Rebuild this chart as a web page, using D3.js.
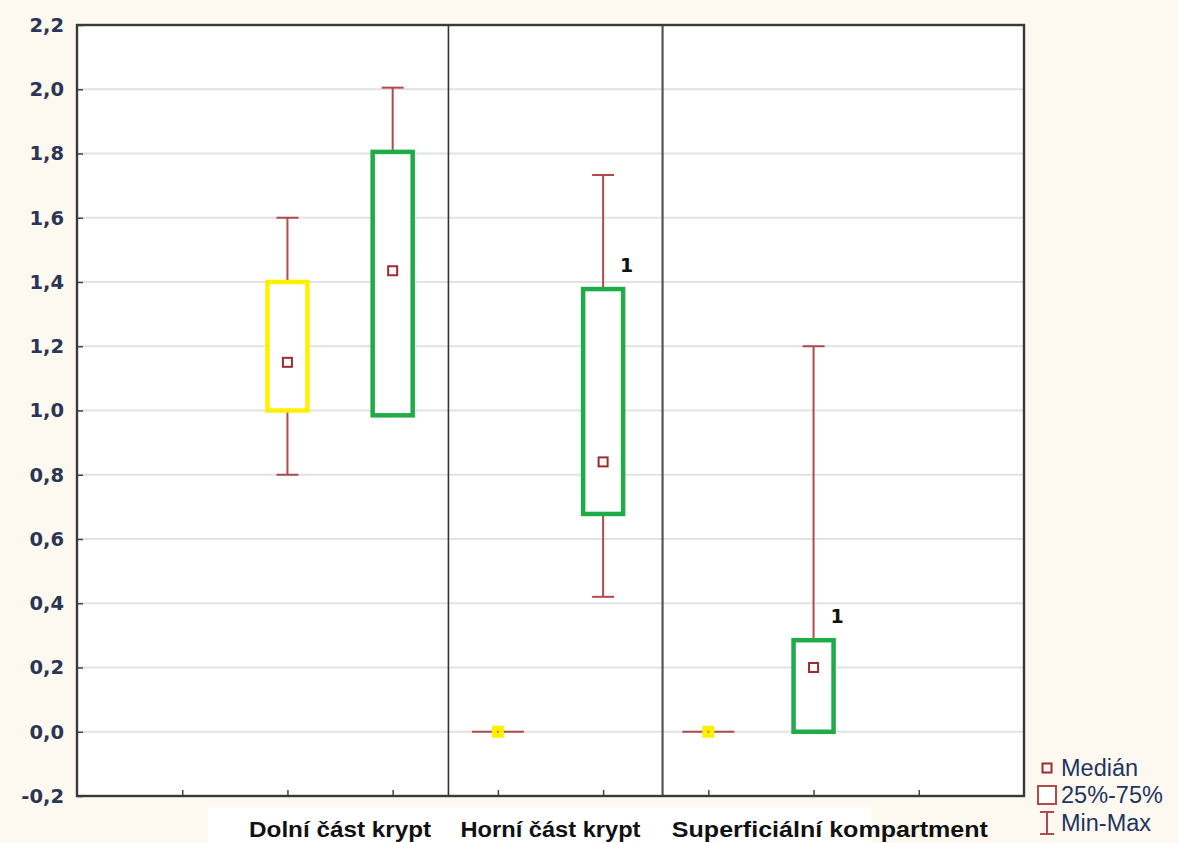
<!DOCTYPE html>
<html>
<head>
<meta charset="utf-8">
<script src="https://cdn.jsdelivr.net/npm/d3@7"></script>
<style>
  html, body { margin: 0; padding: 0; background: #fdf9f0; }
  svg { display: block; }
</style>
</head>
<body>
<script>
// Group labels along the x axis
const categories = ["Dolní část krypt", "Horní část krypt", "Superficiální kompartment"];

// First series (yellow boxes): min, quartiles, median, max per group
const yellowMin = [0.80, 0.00, 0.00];
const yellowQ1 = [1.00, 0.00, 0.00];
const yellowMedian = [1.15, 0.00, 0.00];
const yellowQ3 = [1.40, 0.00, 0.00];
const yellowMax = [1.60, 0.00, 0.00];

// Second series (green boxes)
const greenMin = [0.985, 0.42, 0.00];
const greenQ1 = [0.985, 0.678, 0.00];
const greenMedian = [1.435, 0.84, 0.20];
const greenQ3 = [1.805, 1.378, 0.285];
const greenMax = [2.005, 1.733, 1.20];

// Outlier counts noted beside some green boxes (null = none)
const greenNotes = [null, "1", "1"];

// Y axis ticks
const yTicks = [-0.2, 0.0, 0.2, 0.4, 0.6, 0.8, 1.0, 1.2, 1.4, 1.6, 1.8, 2.0, 2.2];

// Slot positions on the x axis
const xTickSlots = [1, 2, 3, 4, 5, 6, 7, 8];
const yellowSlots = [2, 4, 6];
const greenSlots = [3, 5, 7];
const separatorSlots = [3.53, 5.565];
const labelSlots = [2.5, 4.5, 7.155];

const legendItems = ["Medián", "25%-75%", "Min-Max"];

const W = 1178, H = 843;
const plot = { left: 77, right: 1024, top: 25, bottom: 796 };

const svg = d3.select("body").append("svg").attr("width", W).attr("height", H);

const x = d3.scaleLinear().domain([0, 9]).range([plot.left, plot.right]);
const y = d3.scaleLinear().domain([-0.2, 2.2]).range([plot.bottom, plot.top]);

const whiskerColor = "#b04a4c";
const medianColor = "#9e2b2e";
const boxColors = { yellow: "#fff000", green: "#1fac48" };
const fmt = v => d3.format(".1f")(v).replace(".", ",").replace("\u2212", "-");

// White band behind the category labels
svg.append("rect")
  .attr("x", 208).attr("y", 807).attr("width", 664).attr("height", H - 807)
  .attr("fill", "#ffffff");

// Plot background
svg.append("rect")
  .attr("x", plot.left).attr("y", plot.top)
  .attr("width", plot.right - plot.left).attr("height", plot.bottom - plot.top)
  .attr("fill", "#ffffff");

// Horizontal gridlines
svg.append("g").selectAll("line")
  .data(yTicks.slice(1, -1))
  .join("line")
  .attr("x1", plot.left).attr("x2", plot.right)
  .attr("y1", d => y(d)).attr("y2", d => y(d))
  .attr("stroke", "#e2e2e2").attr("stroke-width", 2);

// Y axis with ticks pointing into the plot
const yAxis = d3.axisLeft(y).tickValues(yTicks).tickSize(-6).tickPadding(13).tickFormat(fmt);
const yg = svg.append("g").attr("transform", `translate(${plot.left},0)`).call(yAxis);
yg.select(".domain").remove();
yg.selectAll(".tick line").attr("stroke", "#444").attr("stroke-width", 1.5);
yg.selectAll(".tick text")
  .attr("font-family", "'DejaVu Sans', Verdana, sans-serif")
  .attr("font-weight", "bold")
  .attr("font-size", 19.5)
  .attr("fill", "#2b3554");

// X axis ticks pointing into the plot (no labels)
const xAxis = d3.axisBottom(x).tickValues(xTickSlots).tickSize(-6).tickFormat("");
const xg = svg.append("g").attr("transform", `translate(0,${plot.bottom})`).call(xAxis);
xg.select(".domain").remove();
xg.selectAll(".tick line").attr("stroke", "#444").attr("stroke-width", 1.5);

// Group separators
svg.append("g").selectAll("line")
  .data(separatorSlots)
  .join("line")
  .attr("x1", d => x(d)).attr("x2", d => x(d))
  .attr("y1", plot.top).attr("y2", plot.bottom)
  .attr("stroke", (d, i) => i === 0 ? "#333" : "#555")
  .attr("stroke-width", (d, i) => i === 0 ? 1.6 : 2.2);

// Build box records from the arrays
function series(slots, mins, q1s, meds, q3s, maxs, color, notes) {
  return slots.map((s, i) => ({
    slot: s, min: mins[i], q1: q1s[i], median: meds[i], q3: q3s[i], max: maxs[i],
    color, note: notes ? notes[i] : null
  }));
}
const boxes = [
  ...series(yellowSlots, yellowMin, yellowQ1, yellowMedian, yellowQ3, yellowMax, boxColors.yellow, null),
  ...series(greenSlots, greenMin, greenQ1, greenMedian, greenQ3, greenMax, boxColors.green, greenNotes)
];

const boxW = 40, capW = 22, medS = 9;
const gBoxes = svg.append("g");

boxes.forEach(b => {
  const cx = x(b.slot);
  const g = gBoxes.append("g");
  if (b.min === b.max) {
    // Collapsed distribution: flat line with a filled marker
    g.append("line")
      .attr("x1", cx - 26).attr("x2", cx + 26)
      .attr("y1", y(b.median)).attr("y2", y(b.median))
      .attr("stroke", whiskerColor).attr("stroke-width", 2);
    g.append("rect")
      .attr("x", cx - 6).attr("y", y(b.median) - 6)
      .attr("width", 12).attr("height", 12)
      .attr("fill", b.color);
    g.append("rect")
      .attr("x", cx - 1).attr("y", y(b.median) - 1)
      .attr("width", 2).attr("height", 2)
      .attr("fill", medianColor).attr("opacity", 0.6);
    return;
  }
  // Whiskers
  [[b.max, b.q3], [b.q1, b.min]].forEach(([a, c]) => {
    if (a === c) return;
    g.append("line")
      .attr("x1", cx).attr("x2", cx)
      .attr("y1", y(a)).attr("y2", y(c))
      .attr("stroke", whiskerColor).attr("stroke-width", 2);
  });
  [b.max, b.min].forEach((v, i) => {
    if ((i === 0 && v === b.q3) || (i === 1 && v === b.q1)) return;
    g.append("line")
      .attr("x1", cx - capW / 2).attr("x2", cx + capW / 2)
      .attr("y1", y(v)).attr("y2", y(v))
      .attr("stroke", whiskerColor).attr("stroke-width", 2);
  });
  // Box
  g.append("rect")
    .attr("x", cx - boxW / 2).attr("y", y(b.q3))
    .attr("width", boxW).attr("height", y(b.q1) - y(b.q3))
    .attr("fill", "#ffffff")
    .attr("stroke", b.color).attr("stroke-width", 4.5);
  // Median marker
  g.append("rect")
    .attr("x", cx - medS / 2).attr("y", y(b.median) - medS / 2)
    .attr("width", medS).attr("height", medS)
    .attr("fill", "#ffffff")
    .attr("stroke", medianColor).attr("stroke-width", 2);
  // Note
  if (b.note) {
    g.append("text")
      .attr("x", cx + 17).attr("y", y(b.q3) - 17)
      .attr("font-family", "'DejaVu Sans', Verdana, sans-serif")
      .attr("font-weight", "bold").attr("font-size", 19)
      .attr("fill", "#111")
      .text(b.note);
  }
});

// Plot frame
svg.append("rect")
  .attr("x", plot.left).attr("y", plot.top)
  .attr("width", plot.right - plot.left).attr("height", plot.bottom - plot.top)
  .attr("fill", "none").attr("stroke", "#3a3a3a").attr("stroke-width", 2.4);

// Category labels
const labelWidths = [182, 180, 316];
svg.append("g").selectAll("text")
  .data(categories)
  .join("text")
  .attr("x", (d, i) => x(labelSlots[i]))
  .attr("y", 837)
  .attr("text-anchor", "middle")
  .attr("font-family", "'Liberation Sans', Arial, sans-serif")
  .attr("font-weight", "bold")
  .attr("font-size", 22)
  .attr("textLength", (d, i) => labelWidths[i])
  .attr("lengthAdjust", "spacingAndGlyphs")
  .attr("fill", "#111")
  .text(d => d);

// Legend
const lg = svg.append("g");
const lx = 1047, rowY = [768, 795, 823];
lg.append("rect")
  .attr("x", lx - 4.5).attr("y", rowY[0] - 4.5).attr("width", 9).attr("height", 9)
  .attr("fill", "#fff").attr("stroke", medianColor).attr("stroke-width", 2);
lg.append("rect")
  .attr("x", lx - 9).attr("y", rowY[1] - 9).attr("width", 18).attr("height", 18)
  .attr("fill", "#fff").attr("stroke", whiskerColor).attr("stroke-width", 2);
lg.append("line").attr("x1", lx).attr("x2", lx).attr("y1", rowY[2] - 11).attr("y2", rowY[2] + 11)
  .attr("stroke", whiskerColor).attr("stroke-width", 2);
[rowY[2] - 11, rowY[2] + 11].forEach(v => {
  lg.append("line").attr("x1", lx - 7).attr("x2", lx + 7).attr("y1", v).attr("y2", v)
    .attr("stroke", whiskerColor).attr("stroke-width", 2);
});
lg.selectAll("text.leg")
  .data(legendItems)
  .join("text")
  .attr("class", "leg")
  .attr("x", lx + 14)
  .attr("y", (d, i) => rowY[i] + 8)
  .attr("font-family", "'Liberation Sans', Arial, sans-serif")
  .attr("font-size", 23.5)
  .attr("fill", "#1f3560")
  .text(d => d);
</script>
</body>
</html>
